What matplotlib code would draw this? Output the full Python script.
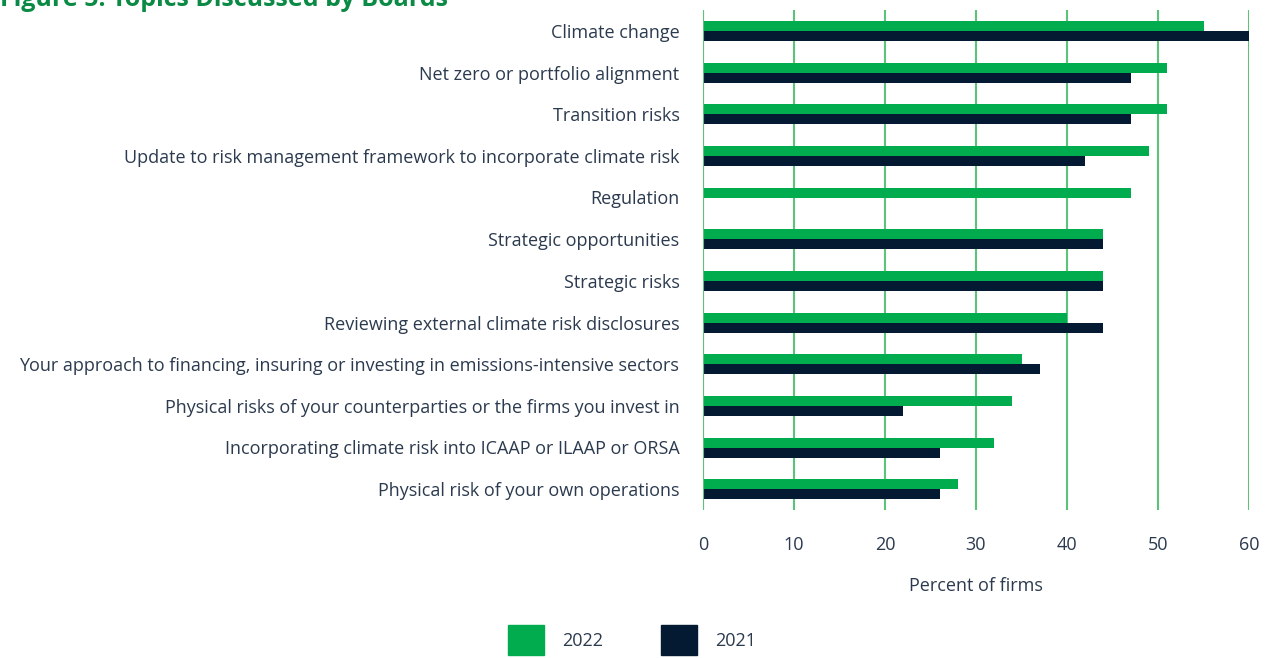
import matplotlib
matplotlib.use("Agg")
import matplotlib.pyplot as plt
import numpy as np
from matplotlib.patches import Patch

categories = [
    "Climate change",
    "Net zero or portfolio alignment",
    "Transition risks",
    "Update to risk management framework to incorporate climate risk",
    "Regulation",
    "Strategic opportunities",
    "Strategic risks",
    "Reviewing external climate risk disclosures",
    "Your approach to financing, insuring or investing in emissions-intensive sectors",
    "Physical risks of your counterparties or the firms you invest in",
    "Incorporating climate risk into ICAAP or ILAAP or ORSA",
    "Physical risk of your own operations",
]
values_2022 = [55, 51, 51, 49, 47, 44, 44, 40, 35, 34, 32, 28]
values_2021 = [60, 47, 47, 42, 0, 44, 44, 44, 37, 22, 26, 26]
series_labels = ["2022", "2021"]
xticks = [0, 10, 20, 30, 40, 50, 60]

GREEN = "#00ac4e"
NAVY = "#041a33"
GRID = "#5cc47a"
TEXT = "#2b3a4e"

plt.rcParams["font.family"] = ["Open Sans", "DejaVu Sans"]
FS = 13

fig = plt.figure(figsize=(12.71, 6.58), dpi=100)
ax = fig.add_axes([703/1271, 1-510/658, 546/1271, 500/658])

y = np.arange(len(categories))
h = 0.24
ax.barh(y - h/2, values_2022, height=h, color=GREEN, zorder=3)
ax.barh(y + h/2, values_2021, height=h, color=NAVY, zorder=3)

ax.set_ylim(len(categories) - 0.5, -0.5)
ax.set_xlim(0, 60)
ax.set_xticks(xticks)
ax.set_xticklabels([str(t) for t in xticks], fontsize=FS, color=TEXT)
ax.set_yticks(y)
ax.set_yticklabels(categories, fontsize=FS, color=TEXT)
ax.tick_params(axis="y", length=0, pad=17)
ax.tick_params(axis="x", length=0, pad=19)
for s in ax.spines.values():
    s.set_visible(False)
ax.xaxis.grid(True, color=GRID, linewidth=1.5, zorder=0)
ax.axvline(0, color=GRID, linewidth=1.5, zorder=4)
ax.set_xlabel("Percent of firms", fontsize=FS, color=TEXT, labelpad=16)

fig.text(0.0, 1.0 + 1/658, "Figure 5: Topics Discussed by Boards", fontsize=18,
         fontweight="bold", color="#0a8a44", ha="left", va="center")

handles = [Patch(color=GREEN, label=series_labels[0]), Patch(color=NAVY, label=series_labels[1])]
fig.legend(handles=handles, loc="center", bbox_to_anchor=(632/1271, 1-640/658), ncol=2,
           frameon=False, fontsize=FS, handlelength=2.0, handleheight=2.1,
           columnspacing=3.2, handletextpad=1.0, labelcolor=TEXT)

fig.savefig("out.png", dpi=100)
